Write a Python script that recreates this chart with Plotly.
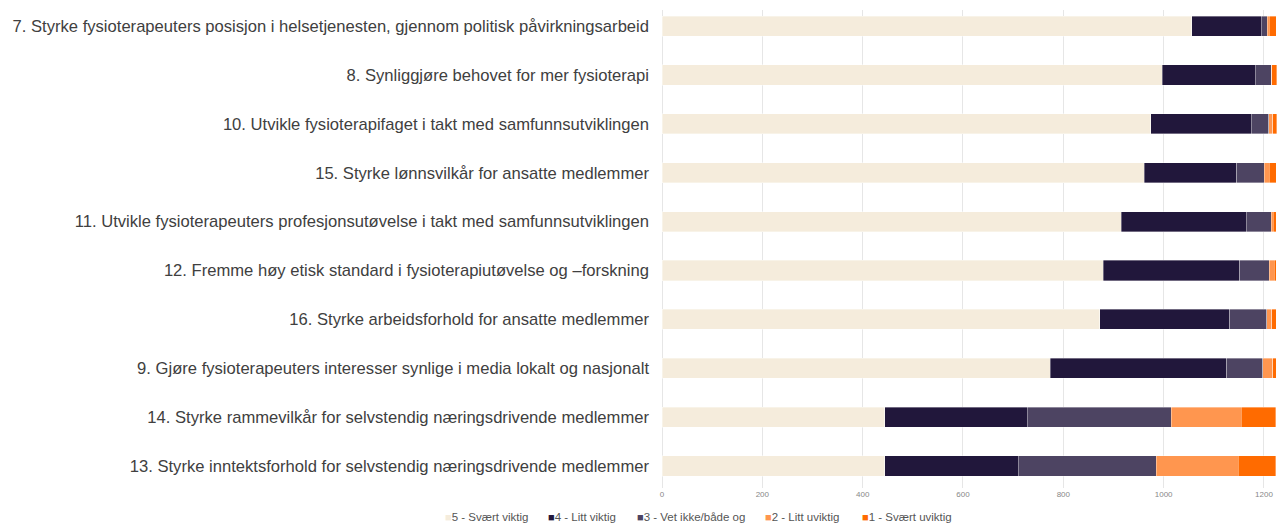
import plotly.graph_objects as go

# Goals, listed top to bottom
goals = [
    "7. Styrke fysioterapeuters posisjon i helsetjenesten, gjennom politisk påvirkningsarbeid",
    "8. Synliggjøre behovet for mer fysioterapi",
    "10. Utvikle fysioterapifaget i takt med samfunnsutviklingen",
    "15. Styrke lønnsvilkår for ansatte medlemmer",
    "11. Utvikle fysioterapeuters profesjonsutøvelse i takt med samfunnsutviklingen",
    "12. Fremme høy etisk standard i fysioterapiutøvelse og –forskning",
    "16. Styrke arbeidsforhold for ansatte medlemmer",
    "9. Gjøre fysioterapeuters interesser synlige i media lokalt og nasjonalt",
    "14. Styrke rammevilkår for selvstendig næringsdrivende medlemmer",
    "13. Styrke inntektsforhold for selvstendig næringsdrivende medlemmer",
]

# Number of answers per rating
svaert_viktig = [1056, 997, 974, 961, 916, 880, 873, 774, 444, 444]
litt_viktig = [139, 186, 201, 185, 249, 272, 259, 352, 284, 266]
vet_ikke = [12, 32, 35, 55, 50, 59, 74, 72, 287, 275]
litt_uviktig = [4, 1, 8, 10, 4, 10, 10, 20, 140, 164]
svaert_uviktig = [14, 10, 8, 14, 6, 4, 9, 7, 69, 75]

series_names = ["5 - Svært viktig", "4 - Litt viktig", "3 - Vet ikke/både og",
                "2 - Litt uviktig", "1 - Svært uviktig"]
series_values = [svaert_viktig, litt_viktig, vet_ikke, litt_uviktig, svaert_uviktig]
colors = ["#F5ECDC", "#21173B", "#4D4462", "#FF964F", "#FF6B00"]

x_ticks = [0, 200, 400, 600, 800, 1000, 1200]

ypos = list(range(len(goals) - 1, -1, -1))

fig = go.Figure()
for name, vals, col in zip(series_names, series_values, colors):
    fig.add_trace(go.Bar(
        y=ypos, x=vals, name=name, orientation="h",
        marker=dict(color=col, line=dict(color="rgba(255,255,255,0.45)", width=0.8)),
        width=0.41, showlegend=False,
    ))

# Legend row drawn as text with coloured squares
W, ML, MR = 1284, 662, 5
plot_w = W - ML - MR
legend_px = [443, 546, 635, 763, 860]
for name, col, px in zip(series_names, colors, legend_px):
    fig.add_annotation(
        x=(px - ML) / plot_w, y=-0.061, xref="paper", yref="paper",
        xanchor="left", yanchor="middle", showarrow=False,
        text=f"<span style='color:{col};font-size:11px'>■</span>{name}",
        font=dict(family="Liberation Sans, Arial", size=11.5, color="#555555"),
    )

fig.update_layout(
    barmode="stack",
    width=W, height=523,
    margin=dict(l=ML, r=MR, t=10, b=35),
    paper_bgcolor="white", plot_bgcolor="white",
    bargap=0.59,
    xaxis=dict(
        range=[0, 1230], tickvals=x_ticks, ticktext=[str(v) for v in x_ticks],
        showgrid=True, gridcolor="#E6E6E6", gridwidth=1,
        zeroline=True, zerolinecolor="#E6E6E6", zerolinewidth=1,
        showline=False, ticks="",
        tickfont=dict(family="Liberation Sans, Arial", size=8, color="#888888"),
    ),
    yaxis=dict(
        range=[-0.45, 9.33], tickvals=ypos, ticktext=goals,
        showgrid=False, zeroline=False, showline=False, ticks="",
        ticklabelstandoff=12,
        tickfont=dict(family="Liberation Sans, Arial", size=16.6, color="#404040"),
    ),
)

fig.write_html("out.html")
